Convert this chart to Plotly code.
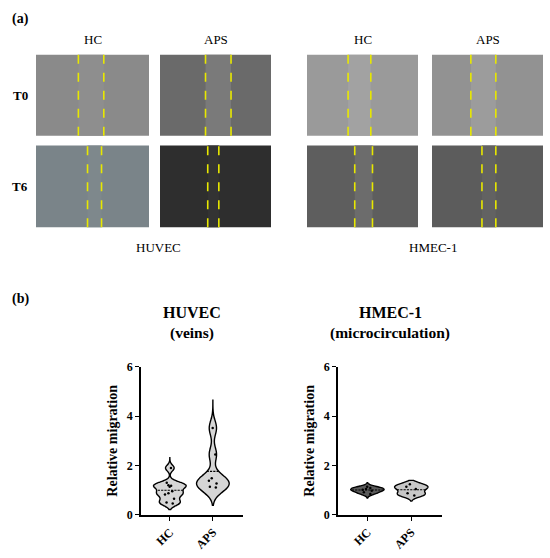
import plotly.graph_objects as go

# ---- data ----
groups = ["HC", "APS"]
cell_lines = ["HUVEC", "HMEC-1"]
cell_subtitles = ["(veins)", "(microcirculation)"]
time_points = ["T0", "T6"]

# relative migration, panel (b)
huvec_hc = [1.90, 1.30, 1.20, 1.18, 1.14, 0.96, 0.88, 0.83, 0.66, 0.50, 0.46]
huvec_aps = [3.52, 2.45, 1.48, 1.38, 1.27, 1.14, 1.11]
hmec_hc = [1.14, 1.09, 1.05, 1.02, 0.98, 0.92, 0.85]
hmec_aps = [1.24, 1.14, 1.05, 0.88, 0.79]

# visible extent of each violin (min, max)
huvec_hc_span = [0.22, 2.32]
huvec_aps_span = [0.39, 4.65]
hmec_hc_span = [0.68, 1.30]
hmec_aps_span = [0.56, 1.40]

# wound edges (fraction of image width) for panel (a), order: HC-T0, APS-T0, HC-T6, APS-T6
huvec_edges = [(0.375, 0.60), (0.41, 0.64), (0.456, 0.58), (0.43, 0.53)]
hmec_edges = [(0.37, 0.575), (0.35, 0.575), (0.43, 0.59), (0.45, 0.575)]

W, H = 550, 558
FONT = "Liberation Serif, DejaVu Serif, serif"


def px(x):
    return x / W


def py(y):
    return 1 - y / H


fig = go.Figure()
shapes = []
annotations = []


def label(x, y, text, size=11, bold=False, **kw):
    if bold:
        text = "<b>" + text + "</b>"
    annotations.append(dict(x=px(x), y=py(y), xref="paper", yref="paper", text=text,
                            xanchor="center", yanchor="middle",
                            showarrow=False, font=dict(family=FONT, size=size, color="black"), **kw))


# ---- panel (a): scratch images as flat grey tiles with dashed wound edges ----
col_x = [(36, 149), (160, 271), (307, 418), (432, 543)]
row_y = [(49, 132), (142, 226)]
tile_colors = [
    ["#8a8a8a", "#6a6a6a", "#9a9a9a", "#929292"],
    ["#7a8489", "#2e2e2e", "#5e5e5e", "#5c5c5c"],
]
gap_colors = [
    ["#8e8e8e", "#7a7a7a", "#a2a2a2", "#9c9c9c"],
    ["#7e888c", "#333333", "#6c6c6c", "#626262"],
]
edges = [[huvec_edges[0], huvec_edges[1], hmec_edges[0], hmec_edges[1]],
         [huvec_edges[2], huvec_edges[3], hmec_edges[2], hmec_edges[3]]]

for r, (y0, y1) in enumerate(row_y):
    for c, (x0, x1) in enumerate(col_x):
        w = x1 - x0
        e0, e1 = edges[r][c]
        shapes.append(dict(type="rect", xref="paper", yref="paper", x0=px(x0), x1=px(x1),
                           y0=py(y1), y1=py(y0), fillcolor=tile_colors[r][c], line=dict(width=0),
                           layer="below"))
        shapes.append(dict(type="rect", xref="paper", yref="paper", x0=px(x0 + e0 * w), x1=px(x0 + e1 * w),
                           y0=py(y1), y1=py(y0), fillcolor=gap_colors[r][c], line=dict(width=0),
                           layer="below"))
        for e in (e0, e1):
            shapes.append(dict(type="line", xref="paper", yref="paper", x0=px(x0 + e * w), x1=px(x0 + e * w),
                               y0=py(y1), y1=py(y0), line=dict(color="#e8e800", width=1.6, dash="dash")))

label(20, 12, "(a)", size=14, bold=True)
for c, (x0, x1) in enumerate(col_x):
    label((x0 + x1) / 2, 33, groups[c % 2], size=13)
for r, (y0, y1) in enumerate(row_y):
    label(20, (y0 + y1) / 2, time_points[r], size=13, bold=True)
label(158, 247, cell_lines[0], size=13)
label(433, 247, cell_lines[1], size=13)

# ---- panel (b): violin plots ----
label(20, 300, "(b)", size=14, bold=True)

panels = [(huvec_hc, huvec_aps, huvec_hc_span, huvec_aps_span, 0.12, 0.30, "x", "y", ["#d6d6d6", "#d6d6d6"]),
          (hmec_hc, hmec_aps, hmec_hc_span, hmec_aps_span, 0.07, 0.10, "x2", "y2", ["#5a5a5a", "#c8c8c8"])]
for hc, aps, hc_span, aps_span, bw_hc, bw_aps, xa, ya, fills in panels:
    for name, vals, span, bw, fill in [("HC", hc, hc_span, bw_hc, fills[0]),
                                       ("APS", aps, aps_span, bw_aps, fills[1])]:
        fig.add_trace(go.Violin(
            x=[name] * len(vals), y=vals, name=name, xaxis=xa, yaxis=ya,
            bandwidth=bw, width=0.76, scalemode="width", spanmode="manual", span=span,
            fillcolor=fill, line=dict(color="black", width=1.4),
            meanline=dict(visible=True, color="black", width=1.1),
            points="all", pointpos=0, jitter=0.35,
            marker=dict(color="black", size=2.5),
            showlegend=False, hoverinfo="skip"))

axis_common = dict(showline=True, linecolor="black", linewidth=1.6, ticks="outside",
                   tickcolor="black", tickwidth=1.4, ticklen=4, showgrid=False, zeroline=False,
                   tickfont=dict(family=FONT, size=12, color="black"))
xa_common = dict(axis_common, categoryorder="array", categoryarray=groups,
                 range=[-0.67, 1.7], tickangle=-45,
                 tickvals=groups, ticktext=["<b>HC</b>", "<b>APS</b>"])
ya_common = dict(axis_common, range=[0, 6], tickvals=[0, 2, 4, 6],
                 ticktext=["<b>0</b>", "<b>2</b>", "<b>4</b>", "<b>6</b>"],
                 title=dict(text="<b>Relative migration</b>", font=dict(family=FONT, size=14, color="black"),
                            standoff=6))

fig.update_layout(
    violinmode="overlay",
    xaxis=dict(xa_common, domain=[px(141), px(243)], anchor="y"),
    yaxis=dict(ya_common, domain=[py(521), py(369)], anchor="x"),
    xaxis2=dict(xa_common, domain=[px(338), px(442)], anchor="y2"),
    yaxis2=dict(ya_common, domain=[py(521), py(369)], anchor="x2"),
)

label(192, 313, "HUVEC", size=16, bold=True)
label(192, 334, cell_subtitles[0], size=15.5, bold=True)
label(390, 313, "HMEC-1", size=16, bold=True)
label(390, 334, cell_subtitles[1], size=15.5, bold=True)

fig.update_layout(
    width=W, height=H, margin=dict(l=0, r=0, t=0, b=0),
    paper_bgcolor="white", plot_bgcolor="white",
    shapes=shapes, annotations=annotations,
    font=dict(family=FONT, color="black"),
)

fig.write_html("out.html", config={"displayModeBar": False},
               post_script="document.body.style.margin='0px';")
